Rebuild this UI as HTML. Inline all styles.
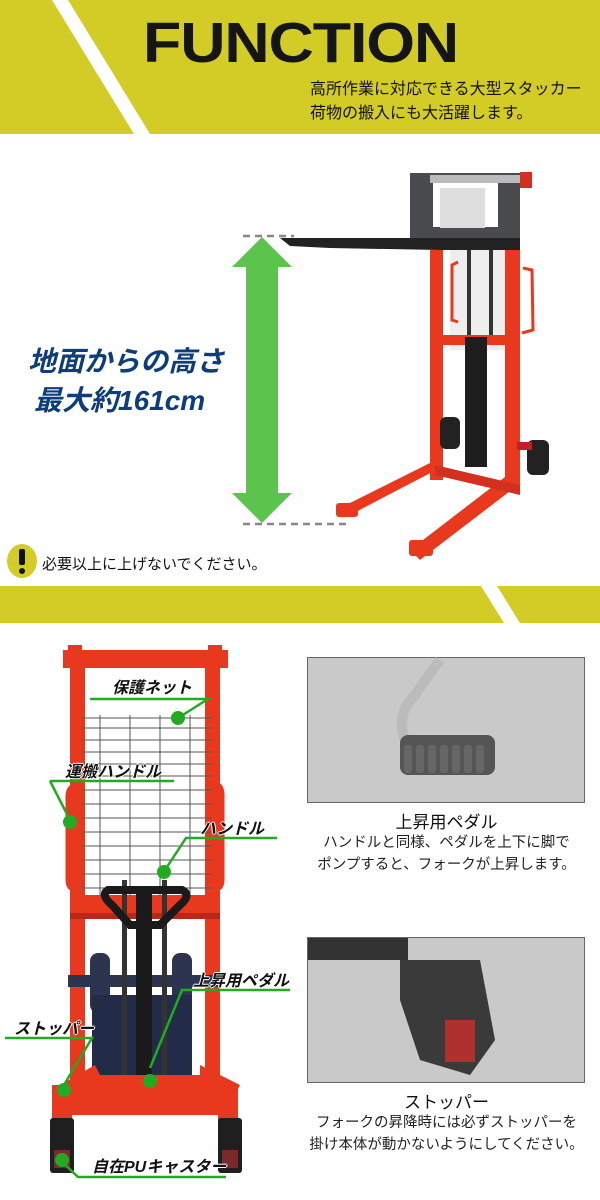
<!DOCTYPE html>
<html><head><meta charset="utf-8"><style>
body{margin:0;width:600px;height:1200px;position:relative;overflow:hidden;background:#fff;font-family:"Liberation Sans","Noto Sans CJK JP",sans-serif}
.abs{position:absolute}
.jp{font-family:"Liberation Sans","Noto Sans CJK JP",sans-serif}
.lab{font-size:16px;font-weight:bold;font-style:italic;color:#111;text-shadow:1px 0 #fff,-1px 0 #fff,0 1px #fff,0 -1px #fff}
</style></head><body>
<svg class="abs" style="left:0;top:0" width="600" height="1200">
 <rect x="0" y="0" width="600" height="134" fill="#d4cc26"/>
 <polygon points="52,0 68,0 150,134 134,134" fill="#fff"/>
 <rect x="0" y="586" width="600" height="37" fill="#d4cc26"/>
 <polygon points="481,586 497,586 520,623 504,623" fill="#fff"/>

 <polygon points="262,237 292,267 278,267 278,493 292,493 262,523 232,493 246,493 246,267 232,267" fill="#5cc44c"/>
 <line x1="243" y1="236" x2="294" y2="236" stroke="#888" stroke-width="2.5" stroke-dasharray="7,5"/>
 <line x1="243" y1="524" x2="348" y2="524" stroke="#888" stroke-width="2.5" stroke-dasharray="7,5"/>

 <g>
  <rect x="410" y="173" width="110" height="68" fill="#4a4b4e"/>
  <rect x="433" y="182" width="65" height="45" fill="#fff"/>
  <rect x="440" y="188" width="45" height="40" fill="#ddd"/>
  <rect x="430" y="175" width="90" height="8" fill="#bbb"/>
  <rect x="520" y="172" width="12" height="16" fill="#d43020"/>
  <polygon points="280,238 520,238 520,250 440,250 330,248 290,246" fill="#222"/>
  <rect x="450" y="250" width="55" height="100" fill="#eee"/>
  <rect x="467" y="250" width="4" height="90" fill="#333"/>
  <rect x="489" y="250" width="4" height="90" fill="#333"/>
  <rect x="430" y="250" width="13" height="230" fill="#e8391f"/>
  <rect x="505" y="250" width="15" height="238" fill="#e8391f"/>
  <rect x="443" y="335" width="62" height="10" fill="#e8391f"/>
  <path d="M458,262 L452,265 L452,320 L458,322" stroke="#e8391f" stroke-width="3" fill="none"/>
  <path d="M523,268 L532,270 L533,330 L522,333" stroke="#e8391f" stroke-width="3" fill="none"/>
  <rect x="465" y="337" width="22" height="130" fill="#1e1e1e"/>
  <rect x="440" y="417" width="20" height="32" rx="6" fill="#222"/>
  <rect x="527" y="440" width="22" height="35" rx="6" fill="#222"/>
  <rect x="517" y="442" width="15" height="8" fill="#c0202a"/>
  <polygon points="432,462 440,468 350,515 340,508" fill="#e8391f"/>
  <polygon points="505,477 518,485 420,560 410,550" fill="#e8391f"/>
  <polygon points="435,465 520,485 520,495 435,475" fill="#d43020"/>
  <rect x="336" y="503" width="22" height="14" rx="3" fill="#e8391f"/>
  <rect x="409" y="540" width="24" height="16" rx="3" fill="#e8391f"/>
 </g>

 <ellipse cx="22" cy="561" rx="15" ry="17" fill="#d4cc26"/>
 <rect x="19" y="549" width="6" height="16" rx="2" fill="#111"/>
 <circle cx="22" cy="571" r="3" fill="#111"/>

 <g>
  <rect x="63" y="650" width="165" height="18" fill="#e8391f"/>
  <rect x="68" y="645" width="14" height="10" fill="#e8391f"/>
  <rect x="208" y="645" width="14" height="10" fill="#e8391f"/>
  <rect x="70" y="665" width="15" height="450" fill="#e8391f"/>
  <rect x="205" y="665" width="15" height="450" fill="#e8391f"/>
  <g stroke="#555" stroke-width="1">
   <line x1="82" y1="718" x2="212" y2="718"/><line x1="82" y1="728" x2="212" y2="728"/>
   <line x1="82" y1="740" x2="212" y2="740"/><line x1="82" y1="752" x2="212" y2="752"/>
   <line x1="82" y1="764" x2="212" y2="764"/><line x1="82" y1="776" x2="212" y2="776"/>
   <line x1="82" y1="790" x2="212" y2="790"/><line x1="82" y1="804" x2="212" y2="804"/>
   <line x1="82" y1="818" x2="212" y2="818"/><line x1="82" y1="832" x2="212" y2="832"/>
   <line x1="82" y1="846" x2="212" y2="846"/><line x1="82" y1="860" x2="212" y2="860"/>
   <line x1="82" y1="874" x2="212" y2="874"/><line x1="82" y1="888" x2="212" y2="888"/>
   <line x1="82" y1="900" x2="212" y2="900"/>
   <line x1="100" y1="715" x2="100" y2="900"/><line x1="130" y1="715" x2="130" y2="900"/>
   <line x1="160" y1="715" x2="160" y2="900"/><line x1="190" y1="715" x2="190" y2="900"/>
  </g>
  <rect x="70" y="895" width="150" height="18" fill="#e8391f"/>
  <rect x="70" y="913" width="150" height="6" fill="#b8281a"/>
  <path d="M78,785 Q67,785 68,800 L68,880 Q68,890 78,890" stroke="#e8391f" stroke-width="5" fill="none"/>
  <path d="M212,783 Q223,783 222,798 L222,880 Q222,890 212,890" stroke="#e8391f" stroke-width="5" fill="none"/>
  <rect x="90" y="953" width="20" height="60" rx="8" fill="#2d3450"/>
  <rect x="172" y="953" width="20" height="60" rx="8" fill="#2d3450"/>
  <rect x="68" y="975" width="150" height="12" fill="#2d3450"/>
  <rect x="92" y="995" width="100" height="85" fill="#222c48"/>
  <rect x="122" y="880" width="5" height="215" fill="#333"/>
  <rect x="162" y="880" width="5" height="215" fill="#333"/>
  <path d="M112,905 Q100,895 108,890 L182,890 Q192,895 180,905 L160,925 L130,925 Z" fill="none" stroke="#1a1a1a" stroke-width="8"/>
  <rect x="136" y="887" width="16" height="210" fill="#1a1a1a"/>
  <rect x="135" y="1080" width="20" height="35" fill="#333"/>
  <rect x="82" y="1075" width="130" height="40" fill="#e8391f"/>
  <polygon points="55,1088 95,1065 100,1075 70,1095" fill="#e8391f"/>
  <polygon points="200,1065 240,1085 235,1095 200,1075" fill="#e8391f"/>
  <rect x="52" y="1085" width="20" height="40" fill="#e8391f"/>
  <rect x="218" y="1085" width="20" height="40" fill="#e8391f"/>
  <rect x="50" y="1118" width="24" height="55" rx="3" fill="#1f1f1f"/>
  <rect x="218" y="1118" width="24" height="55" rx="3" fill="#1f1f1f"/>
  <rect x="54" y="1150" width="16" height="18" fill="#7a2a2a"/>
  <rect x="222" y="1150" width="16" height="18" fill="#7a2a2a"/>
 </g>
 <g stroke="#22aa22" stroke-width="2.5" fill="none">
  <polyline points="90,699 208,699 178,718"/>
  <polyline points="50,781 174,781"/>
  <polyline points="50,781 69,818"/>
  <polyline points="277,838 186,838 165,870"/>
  <polyline points="290,990 182,990 150,1068"/>
  <polyline points="5,1038 92,1038 64,1085"/>
  <polyline points="60,1160 78,1177 226,1177"/>
 </g>
 <g fill="#22aa22">
  <circle cx="178" cy="718" r="7"/><circle cx="70" cy="822" r="7"/>
  <circle cx="164" cy="872" r="7"/><circle cx="150" cy="1081" r="7"/>
  <circle cx="64" cy="1090" r="7"/><circle cx="62" cy="1160" r="7"/>
 </g>

 <rect x="307.5" y="657.5" width="277" height="145" fill="#c9c9c9" stroke="#666"/>
 <path d="M440,660 Q425,680 415,695 Q395,715 405,740" stroke="#bbb" stroke-width="10" fill="none"/>
 <rect x="400" y="735" width="95" height="40" rx="8" fill="#555"/>
 <g fill="#666"><rect x="404" y="745" width="8" height="28" rx="3"/><rect x="416" y="745" width="8" height="28" rx="3"/><rect x="428" y="745" width="8" height="28" rx="3"/><rect x="440" y="745" width="8" height="28" rx="3"/><rect x="452" y="745" width="8" height="28" rx="3"/><rect x="464" y="745" width="8" height="28" rx="3"/><rect x="476" y="745" width="8" height="28" rx="3"/></g>
 <rect x="307.5" y="937.5" width="277" height="145" fill="#c9c9c9" stroke="#666"/>
 <rect x="308" y="938" width="100" height="22" fill="#333"/>
 <path d="M400,960 L480,960 L495,1040 L470,1075 L420,1060 L400,1000 Z" fill="#3a3a3a"/>
 <rect x="445" y="1020" width="30" height="42" fill="#b03030"/>
</svg>

<div class="abs" style="left:143px;top:12px;font-size:57px;font-weight:bold;color:#151515;letter-spacing:-1px;line-height:62px;transform:scaleX(1.1);transform-origin:0 0">FUNCTION</div>
<div class="abs jp" style="left:310px;top:78px;font-size:16px;line-height:24px;color:#111">高所作業に対応できる大型スタッカー<br>荷物の搬入にも大活躍します。</div>
<div class="abs jp" style="left:28px;top:342px;font-size:28px;font-weight:bold;font-style:italic;color:#0d3e7a;line-height:39px">地面からの高さ<br><span style="margin-left:6px">最大約161cm</span></div>
<div class="abs jp" style="left:42px;top:553px;font-size:15px;color:#111">必要以上に上げないでください。</div>

<div class="abs jp lab" style="left:112px;top:674px">保護ネット</div>
<div class="abs jp lab" style="left:65px;top:758px">運搬ハンドル</div>
<div class="abs jp lab" style="left:200px;top:815px">ハンドル</div>
<div class="abs jp lab" style="left:193px;top:967px">上昇用ペダル</div>
<div class="abs jp lab" style="left:14px;top:1015px">ストッパー</div>
<div class="abs jp lab" style="left:92px;top:1153px">自在PUキャスター</div>

<div class="abs jp" style="left:308px;top:808px;width:277px;text-align:center;font-size:17px;color:#111">上昇用ペダル</div>
<div class="abs jp" style="left:304px;top:832px;width:285px;text-align:center;font-size:14.5px;line-height:22px;color:#222">ハンドルと同様、ペダルを上下に脚で<br>ポンプすると、フォークが上昇します。</div>
<div class="abs jp" style="left:308px;top:1088px;width:277px;text-align:center;font-size:17px;color:#111">ストッパー</div>
<div class="abs jp" style="left:304px;top:1112px;width:285px;text-align:center;font-size:14.5px;line-height:22px;color:#222">フォークの昇降時には必ずストッパーを<br>掛け本体が動かないようにしてください。</div>
</body></html>
